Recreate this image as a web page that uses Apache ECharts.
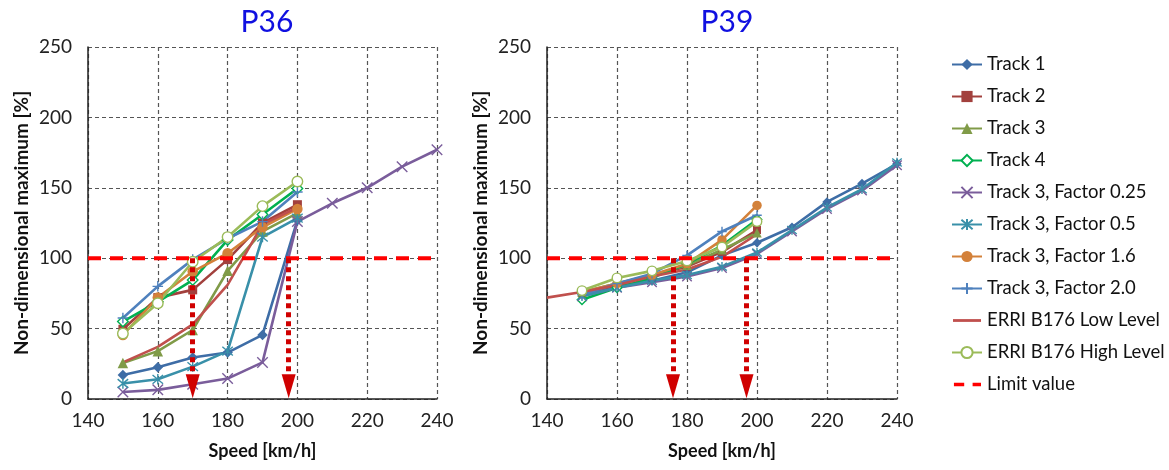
<!DOCTYPE html>
<html>
<head>
<meta charset="utf-8">
<script src="https://cdn.jsdelivr.net/npm/echarts@6/dist/echarts.min.js"></script>
<style>
html,body{margin:0;padding:0;background:#fff;}
#chart{width:1169px;height:470px;}
</style>
</head>
<body>
<div id="chart"></div>
<script>
// ---------- DATA ----------
const chartTitles = ['P36', 'P39'];
const xTicks = [140, 160, 180, 200, 220, 240];
const yTicks = [0, 50, 100, 150, 200, 250];
const seriesNames = ['Track 1', 'Track 2', 'Track 3', 'Track 4', 'Track 3, Factor 0.25',
  'Track 3, Factor 0.5', 'Track 3, Factor 1.6', 'Track 3, Factor 2.0',
  'ERRI B176 Low Level', 'ERRI B176 High Level'];
const limitName = 'Limit value';
const limitValue = 100;
const limitSpeeds = [140, 240];

const speeds = [150, 160, 170, 180, 190, 200];
const speedsLong = [150, 160, 170, 180, 190, 200, 210, 220, 230, 240];
const speedsFrom140 = [140, 150, 160, 170, 180, 190, 200];

// P36
const p36Track1 = [17, 22.5, 29.5, 33, 45.5, 127];
const p36Track2 = [49.5, 72, 77.5, 99, 125, 138];
const p36Track3 = [25.5, 34, 49, 91, 119, 132];
const p36Track4 = [55, 69, 84.5, 113, 131, 149.5];
const p36F025 = [5, 6.5, 10.5, 14.5, 26, 126, 139, 150, 165, 177];
const p36F05 = [11, 14, 23, 34, 115, 128.5];
const p36F16 = [45.5, 72, 90.5, 103.5, 122, 135];
const p36F20 = [57.5, 80, 99, 114, 126, 147];
const p36Low = [26, 37, 53, 81, 124, 136];
const p36High = [46.5, 68, 97.5, 115, 137, 154.5];
const p36ArrowSpeeds = [170, 197.5];

// P39
const p39Track1 = [74, 80, 84, 90, 102, 111, 122, 140, 153, 167];
const p39Track2 = [75, 81, 88, 94, 104.5, 120];
const p39Track3 = [76, 82, 88, 95, 106, 118];
const p39Track4 = [70.5, 79, 86, 96, 109, 127.5];
const p39F025 = [73, 79, 83, 87, 93, 103, 119, 135, 148, 166];
const p39F05 = [73, 79, 84, 88, 94, 104, 120, 136, 149, 168];
const p39F16 = [76, 82, 88, 96, 113, 137.5];
const p39F20 = [74, 82, 89, 102, 119, 130.5];
const p39Low = [72, 76, 81, 87, 92, 101, 117];
const p39High = [77, 86, 91, 98, 108, 126];
const p39ArrowSpeeds = [176, 197];

// ---------- STYLE ----------
const FONT = 'Lato';
const P_X = 'path://M0,0L10,10M10,0L0,10';
const P_AST = 'path://M0,0L10,10M10,0L0,10M5,-1V11';
const P_PLUS = 'path://M5,0V10M0,5H10';
const styles = {
  'Track 1': {color: '#3E6DA6', symbol: 'diamond', fill: true},
  'Track 2': {color: '#A2403D', symbol: 'rect', fill: true},
  'Track 3': {color: '#809B48', symbol: 'triangle', fill: true},
  'Track 4': {color: '#00B050', symbol: 'diamond', fill: false},
  'Track 3, Factor 0.25': {color: '#7A5D9B', symbol: P_X, fill: false, stroke: true},
  'Track 3, Factor 0.5': {color: '#3990A9', symbol: P_AST, fill: false, stroke: true},
  'Track 3, Factor 1.6': {color: '#D3813A', symbol: 'circle', fill: true},
  'Track 3, Factor 2.0': {color: '#4F81BD', symbol: P_PLUS, fill: false, stroke: true},
  'ERRI B176 Low Level': {color: '#C0504D', symbol: 'none', fill: true,
    legendIcon: 'path://M0,0M0,6H30V9H0ZM30,15'},
  'ERRI B176 High Level': {color: '#9BBB59', symbol: 'circle', fill: false}
};

const chartData = [
  {
    'Track 1': [speeds, p36Track1], 'Track 2': [speeds, p36Track2], 'Track 3': [speeds, p36Track3],
    'Track 4': [speeds, p36Track4], 'Track 3, Factor 0.25': [speedsLong, p36F025],
    'Track 3, Factor 0.5': [speeds, p36F05], 'Track 3, Factor 1.6': [speeds, p36F16],
    'Track 3, Factor 2.0': [speeds, p36F20], 'ERRI B176 Low Level': [speeds, p36Low],
    'ERRI B176 High Level': [speeds, p36High], arrows: p36ArrowSpeeds, symSize: 10.5
  },
  {
    'Track 1': [speedsLong, p39Track1], 'Track 2': [speeds, p39Track2], 'Track 3': [speeds, p39Track3],
    'Track 4': [speeds, p39Track4], 'Track 3, Factor 0.25': [speedsLong, p39F025],
    'Track 3, Factor 0.5': [speedsLong, p39F05], 'Track 3, Factor 1.6': [speeds, p39F16],
    'Track 3, Factor 2.0': [speeds, p39F20], 'ERRI B176 Low Level': [speedsFrom140, p39Low],
    'ERRI B176 High Level': [speeds, p39High], arrows: p39ArrowSpeeds, symSize: 9.5
  }
];

const grids = [
  {left: 88, right: 732, top: 47, bottom: 71},
  {left: 547, right: 272, top: 47, bottom: 71}
];

const option = {
  animation: false,
  backgroundColor: '#fff',
  textStyle: {fontFamily: FONT},
  title: chartTitles.map((t, i) => ({
    text: t,
    left: (i === 0 ? 262 : 722),
    top: 2,
    textAlign: 'center',
    textStyle: {fontFamily: FONT, fontSize: 30, fontWeight: 'normal', color: '#1010E0'}
  })),
  grid: grids,
  legend: {
    orient: 'vertical',
    left: 946,
    top: 50,
    itemWidth: 30,
    itemHeight: 14,
    itemGap: 13,
    textStyle: {fontFamily: FONT, fontSize: 18.5, color: '#111'},
    data: seriesNames.map(n => (styles[n].legendIcon ? {name: n, icon: styles[n].legendIcon} : {name: n}))
      .concat([{
        name: limitName,
        icon: 'path://M0,0M1,5.5H12V9.5H1ZM21,5.5H30V9.5H21ZM30,15'
      }])
  },
  xAxis: grids.map((g, i) => ({
    gridIndex: i, type: 'value', min: xTicks[0], max: xTicks[xTicks.length - 1],
    interval: xTicks[1] - xTicks[0],
    name: 'Speed [km/h]', nameLocation: 'middle', nameGap: 43,
    nameTextStyle: {fontFamily: FONT, fontSize: 18, fontWeight: 'bold', color: '#111'},
    axisLine: {show: true, lineStyle: {color: '#222', width: 1.5}},
    axisTick: {show: false},
    axisLabel: {fontFamily: FONT, fontSize: 19, color: '#222', margin: 12},
    splitLine: {show: true, lineStyle: {color: '#555', type: [4, 3], width: 1.2}}
  })),
  yAxis: grids.map((g, i) => ({
    gridIndex: i, type: 'value', min: yTicks[0], max: yTicks[yTicks.length - 1],
    interval: yTicks[1] - yTicks[0],
    name: 'Non-dimensional maximum [%]', nameLocation: 'middle', nameGap: 57,
    nameTextStyle: {fontFamily: FONT, fontSize: 19, fontWeight: 'bold', color: '#111'},
    axisLine: {show: true, lineStyle: {color: '#222', width: 1.5}},
    axisTick: {show: false},
    axisLabel: {fontFamily: FONT, fontSize: 19, color: '#222', margin: 16},
    splitLine: {show: true, lineStyle: {color: '#555', type: [4, 3], width: 1.2}}
  })),
  series: []
};

chartData.forEach((cd, gi) => {
  seriesNames.forEach(name => {
    const st = styles[name];
    const [xs, ys] = cd[name];
    option.series.push({
      name: name, type: 'line', xAxisIndex: gi, yAxisIndex: gi,
      data: xs.map((x, k) => [x, ys[k]]),
      symbol: st.symbol,
      symbolSize: st.symbol === 'rect' ? cd.symSize - 1.5 : cd.symSize,
      showAllSymbol: true,
      lineStyle: {color: st.color, width: 2.6},
      itemStyle: {
        color: st.fill ? st.color : (st.stroke ? 'none' : '#fff'),
        borderColor: st.color,
        borderWidth: st.fill ? 0 : 1.4
      },
      emphasis: {disabled: true},
      z: 3
    });
  });
  option.series.push({
    name: limitName, type: 'line', xAxisIndex: gi, yAxisIndex: gi,
    data: limitSpeeds.map(x => [x, limitValue]),
    symbol: 'none',
    lineStyle: {color: '#FF0000', width: 4, type: [13, 9]},
    itemStyle: {color: '#FF0000'},
    emphasis: {disabled: true},
    z: 4,
    markLine: {
      silent: true,
      symbol: ['none', 'triangle'],
      symbolSize: [14, 24],
      label: {show: false},
      lineStyle: {color: '#D00000', width: 5, type: [5, 4]},
      data: cd.arrows.map(s => [{coord: [s, limitValue]}, {coord: [s, 9]}])
    }
  });
});

const chart = echarts.init(document.getElementById('chart'));
chart.setOption(option);
</script>
</body>
</html>
